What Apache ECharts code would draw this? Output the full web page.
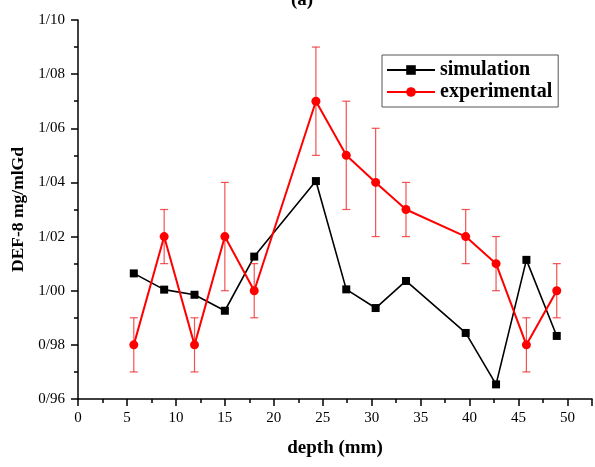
<!DOCTYPE html>
<html lang="en">
<head>
<meta charset="UTF-8">
<title>DEF-8 depth</title>
<style>
  html, body { margin: 0; padding: 0; background: #fff; }
  #container { width: 595px; height: 467px; }
</style>
</head>
<body>
<div id="container"></div>
<script src="https://cdn.jsdelivr.net/npm/echarts@6/dist/echarts.min.js"></script>
<script>
// values
var depth = [5.7, 8.8, 11.9, 15.0, 18.0, 24.3, 27.4, 30.4, 33.5, 39.6, 42.7, 45.8, 48.9];
var simulation = [1.0064, 1.0004, 0.9985, 0.9926, 1.0126, 1.0405, 1.0005, 0.9936, 1.0036, 0.9844, 0.9654, 1.0114, 0.9833];
var experimental = [0.98, 1.02, 0.98, 1.02, 1.00, 1.07, 1.05, 1.04, 1.03, 1.02, 1.01, 0.98, 1.00];
var expError = [0.01, 0.01, 0.01, 0.02, 0.01, 0.02, 0.02, 0.02, 0.01, 0.01, 0.01, 0.01, 0.01];

var serif = '"Liberation Serif", "DejaVu Serif", serif';

var simData = depth.map(function (d, i) { return [d, simulation[i]]; });
var expData = depth.map(function (d, i) { return [d, experimental[i]]; });
var errData = depth.map(function (d, i) {
  return [d, experimental[i] - expError[i], experimental[i] + expError[i]];
});

var myChart = echarts.init(document.getElementById('container'));

var option = {
  backgroundColor: '#fff',
  animation: false,
  title: {
    text: '(a)',
    left: 297,
    top: -14,
    textAlign: 'center',
    textStyle: { fontFamily: serif, fontWeight: 'bold', fontSize: 19, color: '#000' }
  },
  legend: {
    left: 382,
    top: 55,
    orient: 'vertical',
    backgroundColor: '#fff',
    borderColor: '#555',
    borderWidth: 1,
    borderRadius: 0,
    padding: [5, 6, 5, 4],
    itemGap: 2,
    itemWidth: 48,
    itemHeight: 12,
    data: ['simulation', 'experimental'],
    textStyle: { fontFamily: serif, fontWeight: 'bold', fontSize: 20, color: '#000' }
  },
  grid: {
    left: 78,
    top: 20,
    right: 3,
    bottom: 68,
    containLabel: false
  },
  xAxis: {
    type: 'value',
    min: 0,
    max: 52.5,
    interval: 5,
    name: 'depth (mm)',
    nameLocation: 'middle',
    nameGap: 40,
    nameTextStyle: { fontFamily: serif, fontWeight: 'bold', fontSize: 19, color: '#000' },
    axisLine: { onZero: false, lineStyle: { color: '#000', width: 1.5 } },
    axisTick: { inside: false, length: 7, lineStyle: { color: '#000', width: 1.5 } },
    minorTick: { show: true, splitNumber: 2, length: 4, lineStyle: { color: '#000', width: 1.5 } },
    axisLabel: {
      fontFamily: serif, fontSize: 15, color: '#000', margin: 12,
      showMaxLabel: false,
      formatter: function (v) { return v % 5 === 0 ? String(v) : ''; }
    },
    splitLine: { show: false }
  },
  yAxis: {
    type: 'value',
    min: 0.96,
    max: 1.10,
    interval: 0.02,
    name: 'DEF-8 mg/mlGd',
    nameLocation: 'middle',
    nameGap: 51,
    nameTextStyle: { fontFamily: serif, fontWeight: 'bold', fontSize: 17.5, color: '#000' },
    axisLine: { show: true, lineStyle: { color: '#000', width: 1.5 } },
    axisTick: { show: true, inside: false, length: 7, lineStyle: { color: '#000', width: 1.5 } },
    minorTick: { show: true, splitNumber: 2, length: 4, lineStyle: { color: '#000', width: 1.5 } },
    axisLabel: {
      fontFamily: serif, fontSize: 15, color: '#000', margin: 13,
      formatter: function (v) { return v.toFixed(2).replace('.', '/'); }
    },
    splitLine: { show: false }
  },
  series: [
    {
      name: 'simulation',
      type: 'line',
      data: simData,
      symbol: 'rect',
      symbolSize: 8,
      z: 3,
      itemStyle: { color: '#000' },
      lineStyle: { color: '#000', width: 1.6 }
    },
    {
      name: 'errors',
      type: 'custom',
      data: errData,
      z: 4,
      renderItem: function (params, api) {
        var lo = api.coord([api.value(0), api.value(1)]);
        var hi = api.coord([api.value(0), api.value(2)]);
        var w = 4;
        var style = { stroke: 'rgba(240,40,40,0.8)', lineWidth: 1.2 };
        return {
          type: 'group',
          children: [
            { type: 'line', shape: { x1: lo[0], y1: lo[1], x2: hi[0], y2: hi[1] }, style: style },
            { type: 'line', shape: { x1: lo[0] - w, y1: lo[1], x2: lo[0] + w, y2: lo[1] }, style: style },
            { type: 'line', shape: { x1: hi[0] - w, y1: hi[1], x2: hi[0] + w, y2: hi[1] }, style: style }
          ]
        };
      }
    },
    {
      name: 'experimental',
      type: 'line',
      data: expData,
      symbol: 'circle',
      symbolSize: 9,
      z: 5,
      itemStyle: { color: '#ff0000' },
      lineStyle: { color: '#ff0000', width: 2 }
    }
  ]
};

myChart.setOption(option, true);
</script>
</body>
</html>
